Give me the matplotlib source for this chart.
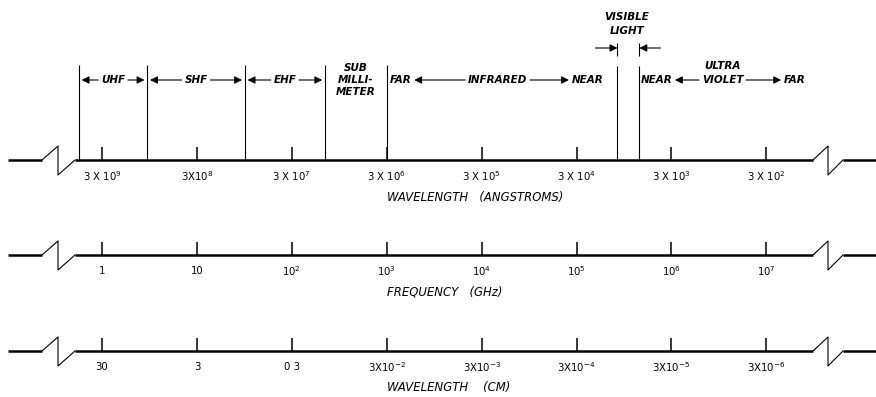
import numpy as np
import matplotlib.pyplot as plt
from matplotlib import transforms

plt.rcParams['font.family'] = ['DejaVu Sans']
plt.rcParams['mathtext.default'] = 'regular'

# scale values (tick marks) for the three rulers
angstrom_ticks = [3e9, 3e8, 3e7, 3e6, 3e5, 3e4, 3e3, 3e2]
angstrom_labels = ['3 X 10$^9$', '3X10$^8$', '3 X 10$^7$', '3 X 10$^6$',
                   '3 X 10$^5$', '3 X 10$^4$', '3 X 10$^3$', '3 X 10$^2$']
ghz_ticks = [1, 10, 1e2, 1e3, 1e4, 1e5, 1e6, 1e7]
ghz_labels = ['1', '10', '10$^2$', '10$^3$', '10$^4$', '10$^5$', '10$^6$', '10$^7$']
cm_ticks = [30, 3, 0.3, 3e-2, 3e-3, 3e-4, 3e-5, 3e-6]
cm_labels = ['30', '3', '0 3', '3X10$^{-2}$', '3X10$^{-3}$', '3X10$^{-4}$',
             '3X10$^{-5}$', '3X10$^{-6}$']
axis_titles = ['WAVELENGTH   (ANGSTROMS)', 'FREQUENCY   (GHz)', 'WAVELENGTH    (CM)']

# band edges in GHz, as drawn
radio_bands = ['UHF', 'SHF', 'EHF']
radio_edges = [0.57, 3.0, 32, 224, 1000]
infrared = [1000, 2.7e5]
visible = [2.7e5, 4.6e5]
uv_end = 2.6e7

# convert everything to frequency (GHz)
rows = [
    (3e9 / np.array(angstrom_ticks), angstrom_labels),
    (np.array(ghz_ticks), ghz_labels),
    (30 / np.array(cm_ticks), cm_labels),
]

W, H = 876, 397
fig = plt.figure(figsize=(W / 100, H / 100), dpi=100)
ax = fig.add_axes([0, 0, 1, 1])
ax.set_xscale('log')
px_dec, px_1ghz = 94.9, 102
ax.set_xlim(10 ** (-px_1ghz / px_dec), 10 ** ((W - px_1ghz) / px_dec))
ax.set_ylim(H, 0)
ax.axis('off')

tr = transforms.blended_transform_factory(ax.transAxes, ax.transData)
line_y = [160, 255, 351]
tick_fs = 7.3
title_fs = 8.4


def ruler(y):
    f = lambda p: p / W
    for a, b in [(8, 42), (75, 813), (843, W)]:
        ax.plot([f(a), f(b)], [y, y], color='k', lw=1.8, transform=tr,
                solid_capstyle='butt')
    for a, m, b in [(42, 58, 75), (813, 828, 843)]:
        ax.plot([f(a), f(m), f(m), f(b)], [y, y - 14, y + 15, y], color='k',
                lw=0.8, transform=tr)


for (pos, labels), y, title in zip(rows, line_y, axis_titles):
    ruler(y)
    ax.vlines(pos, y - 13, y, color='k', lw=1.1)
    for p, lab in zip(pos, labels):
        ax.text(p, y + 16, lab, ha='center', va='center', fontsize=tick_fs)
    ax.text(1000, y + 37, title, ha='left', va='center', fontsize=title_fs,
            style='italic')

# band boundaries on the top ruler
ax.vlines(radio_edges, 65, line_y[0], color='k', lw=0.8)
ax.vlines(visible, 66, line_y[0], color='k', lw=0.8)
ax.vlines(visible, 43, 56, color='k', lw=0.8)

arrow = dict(arrowstyle='-|>', color='k', lw=0.8, mutation_scale=11,
             shrinkA=2, shrinkB=2)
lab = dict(fontsize=7.5, style='italic', fontweight='bold', va='center')
band_y = 80

for lo, hi, name in zip(radio_edges[:-2], radio_edges[1:-1], radio_bands):
    t = ax.text(np.sqrt(lo * hi), band_y, name, ha='center', **lab)
    ax.annotate('', xy=(lo, band_y), xytext=(0, 0.5), textcoords=t, arrowprops=arrow)
    ax.annotate('', xy=(hi, band_y), xytext=(1, 0.5), textcoords=t, arrowprops=arrow)

ax.text(np.sqrt(radio_edges[-2] * radio_edges[-1]), band_y, 'SUB\nMILLI-\nMETER',
        ha='center', linespacing=1.25, **lab)

# infrared
far = ax.annotate('FAR', xy=(infrared[0], band_y), xytext=(3, 0),
                  textcoords='offset pixels', ha='left', **lab)
near = ax.annotate('NEAR', xy=(infrared[1], band_y), xytext=(-14, 0),
                   textcoords='offset pixels', ha='right', **lab)
ir = ax.text(np.sqrt(infrared[0] * infrared[1]) * 0.9, band_y, 'INFRARED',
             ha='center', **lab)
ax.annotate('', xy=(1, 0.5), xycoords=far, xytext=(0, 0.5), textcoords=ir,
            arrowprops=arrow)
ax.annotate('', xy=(0, 0.5), xycoords=near, xytext=(1, 0.5), textcoords=ir,
            arrowprops=arrow)

# ultraviolet
unear = ax.annotate('NEAR', xy=(visible[1], band_y), xytext=(1, 0),
                    textcoords='offset pixels', ha='left', **lab)
ufar = ax.text(uv_end, band_y, 'FAR', ha='right', **lab)
uv = ax.text(np.sqrt(visible[1] * uv_end), band_y, 'VIOLET', ha='center', **lab)
ax.text(np.sqrt(visible[1] * uv_end), band_y - 14, 'ULTRA', ha='center', **lab)
ax.annotate('', xy=(1, 0.5), xycoords=unear, xytext=(0, 0.5), textcoords=uv,
            arrowprops=arrow)
ax.annotate('', xy=(0, 0.5), xycoords=ufar, xytext=(1, 0.5), textcoords=uv,
            arrowprops=arrow)

# visible light
vc = np.sqrt(visible[0] * visible[1]) * 0.96
ax.text(vc, 17, 'VISIBLE', ha='center', **lab)
ax.text(vc, 31, 'LIGHT', ha='center', **lab)
vis_arrow = dict(arrow, shrinkA=0, shrinkB=0)
ax.annotate('', xy=(visible[0], 48), xytext=(-22, 0), textcoords='offset pixels',
            arrowprops=vis_arrow)
ax.annotate('', xy=(visible[1], 48), xytext=(21, 0), textcoords='offset pixels',
            arrowprops=vis_arrow)

fig.savefig('out.png', dpi=100)
